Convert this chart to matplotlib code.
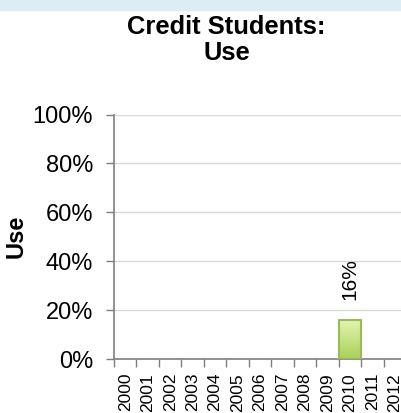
import numpy as np
import matplotlib
matplotlib.use("Agg")
import matplotlib.pyplot as plt
from matplotlib.patches import Rectangle
from matplotlib.colors import LinearSegmentedColormap

plt.rcParams['font.family'] = ['Liberation Sans', 'DejaVu Sans']

# data
years = [str(y) for y in range(2000, 2013)]
use_pct = [np.nan] * 10 + [16] + [np.nan] * 2   # only 2010 has a value
y_ticks = [0, 20, 40, 60, 80, 100]

fig = plt.figure(figsize=(4.02, 4.13), dpi=100)
# light blue strip at the top
fig.patches.append(Rectangle((0, 1 - 10 / 413), 1, 10 / 413, transform=fig.transFigure,
                             color='#dcedf4', zorder=0))

ax = fig.add_axes([114 / 402, 1 - 359 / 413, 292 / 402, 244.5 / 413])
x = np.arange(len(years))
vals = np.array(use_pct, dtype=float)
has = ~np.isnan(vals)
bars = ax.bar(x[has], vals[has], width=1.0, color='none', edgecolor='#9bbb59',
              linewidth=1.5, zorder=3)

# gradient fill inside the bars
cmap = LinearSegmentedColormap.from_list('g', ['#a9cf5c', '#e3f7ae'])
grad = np.linspace(0, 1, 64).reshape(-1, 1)
for b in bars:
    v = b.get_height()
    ax.imshow(grad, cmap=cmap, origin='lower', aspect='auto', zorder=2,
              extent=[b.get_x(), b.get_x() + b.get_width(), 0, v])
    ax.text(b.get_x() + b.get_width() / 2, v + 8, f"{v:.0f}%", rotation=90,
            ha='center', va='bottom', fontsize=15)

ax.set_xlim(-0.5, len(years) - 0.5)
ax.set_ylim(0, 100)
ax.set_yticks(y_ticks)
ax.set_yticklabels([f"{t}%" for t in y_ticks], fontsize=17)
ax.set_xticks(x)
ax.set_xticklabels(years, rotation=90, fontsize=12.5)
ax.set_xticks(np.arange(-0.5, len(years)), minor=True)
ax.tick_params(axis='x', which='major', length=0, pad=10)
ax.tick_params(axis='x', which='minor', length=6, color='#7f7f7f', width=1)
ax.tick_params(axis='y', length=6, color='#7f7f7f', width=1, pad=9)
ax.grid(axis='y', color='#d9d9d9', linewidth=1, zorder=0)
ax.set_axisbelow(True)
for s in ['top', 'right']:
    ax.spines[s].set_visible(False)
for s in ['left', 'bottom']:
    ax.spines[s].set_color('#7f7f7f')
    ax.spines[s].set_linewidth(1.2)

ax.set_ylabel('Use', fontsize=17, fontweight='bold')
ax.yaxis.set_label_coords(-0.2945, 0.5)
fig.text(226.5 / 402, 1 - 40 / 413, 'Credit Students:\nUse', ha='center', va='center',
         fontsize=18.4, fontweight='bold', linespacing=1.12)

fig.savefig('out.png', dpi=100)
